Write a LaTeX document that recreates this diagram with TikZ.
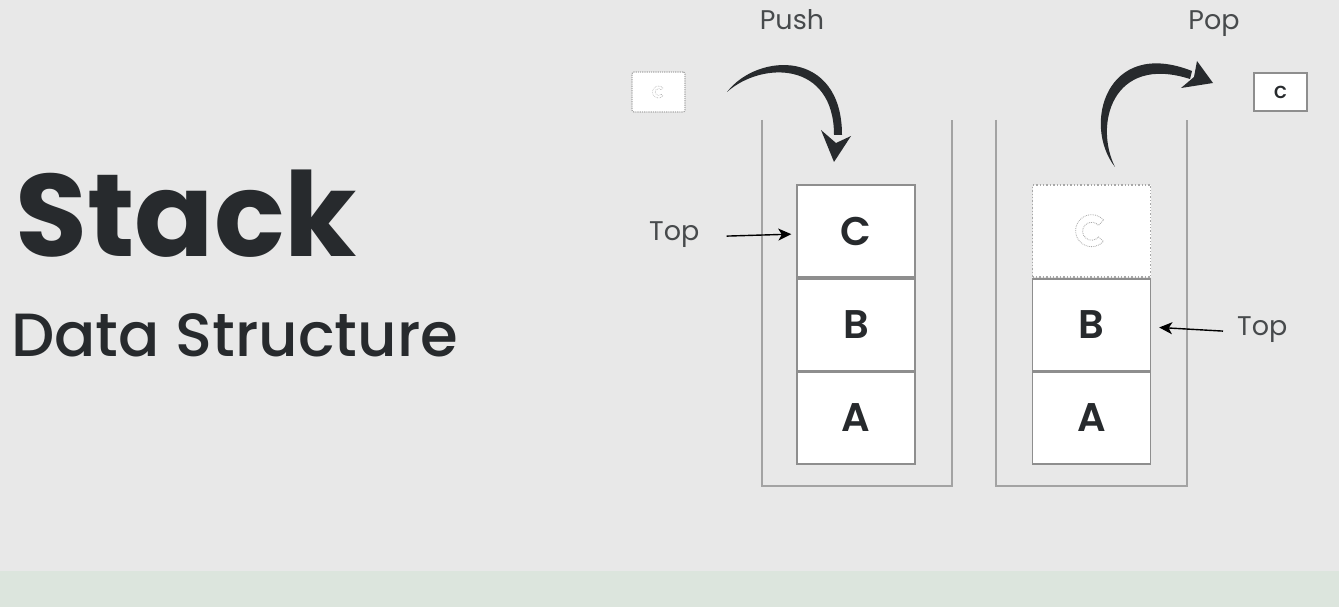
\documentclass[tikz,border=0pt]{standalone}
\usepackage{fontspec}
\setmainfont{Poppins}
\newfontfamily\popsemi{Poppins SemiBold}
\newfontfamily\popmed{Poppins Medium}
\usetikzlibrary{arrows.meta,calc}
\definecolor{bgc}{HTML}{E8E8E8}
\definecolor{bandc}{HTML}{DCE5DD}
\definecolor{darkc}{HTML}{272A2D}
\definecolor{labc}{HTML}{474A4C}
\definecolor{boxc}{HTML}{8E8E8E}
\definecolor{wallc}{HTML}{A3A3A3}
\definecolor{ghostc}{HTML}{A8A8A8}
\tikzset{
  cell/.style={draw=boxc, line width=1.4pt, fill=white, minimum width=118pt, minimum height=92pt, inner sep=0pt, text=darkc, font=\fontsize{40}{40}\popsemi},
  ghostcell/.style={cell, draw=ghostc, dotted},
  wall/.style={draw=wallc, line width=2pt},
  lab/.style={text=labc, inner sep=0pt, font=\fontsize{27}{27}\selectfont},
  toparrow/.style={draw=black, line width=1.4pt, -{Stealth[length=13pt,width=12pt,inset=3.5pt]}},
  brush/.style={fill=darkc},
  ghostline/.style={draw=ghostc, densely dotted, line width=0.8pt}
}
\begin{document}
\begin{tikzpicture}[x=1pt,y=-1pt]
\useasboundingbox (0,0) rectangle (1339,607);
\fill[bgc] (0,0) rectangle (1339,607);
\fill[bandc] (0,571) rectangle (1339,607);

% titles
\node[anchor=base west, inner sep=0pt, text=darkc, font=\fontsize{117}{117}\selectfont\bfseries] (title) at (15,256) {Stack};
\node[anchor=base west, inner sep=0pt, text=darkc, font=\fontsize{61}{61}\popmed] (subtitle) at (11,356) {Data Structure};

% labels
\node[lab, anchor=base] (push) at (792,30) {Push};
\node[lab, anchor=base] (pop) at (1214,30) {Pop};

% containers
\draw[wall] (762,120) -- (762,486) -- (952,486) -- (952,120);
\draw[wall] (996,120) -- (996,486) -- (1187,486) -- (1187,120);

% left stack
\node[cell] (C1) at (856,231) {C};
\node[cell] (B1) at (856,325) {B};
\node[cell] (A1) at (856,418) {A};

% right stack
\node[ghostcell] (C2) at (1091.5,231) {};
\node[cell] (B2) at (1091.5,325) {B};
\node[cell] (A2) at (1091.5,418) {A};

% ghost C in right stack
\draw[ghostline] ($(C2.center)+(12,-11)$) arc[start angle=-42, end angle=-318, radius=16]
  -- ($(C2.center)+(7,6)$) arc[start angle=40, end angle=320, radius=9] -- cycle;

% small boxes
\node[draw=ghostc, densely dotted, line width=1.2pt, fill=white, rounded corners=2pt, minimum width=53pt, minimum height=40pt, inner sep=0pt] (cin) at (658.5,92) {};
\draw[ghostline, line width=0.6pt] ($(cin.center)+(4.5,-4)$) arc[start angle=-42, end angle=-318, radius=6]
  -- ($(cin.center)+(2.6,2.2)$) arc[start angle=40, end angle=320, radius=3.4] -- cycle;
\node[draw=boxc, line width=1.2pt, fill=white, minimum width=53pt, minimum height=38pt, inner sep=0pt, text=darkc, font=\fontsize{22}{22}\popmed] (cout) at (1280.5,92) {c};

% top labels and arrows
\node[lab, anchor=base west] (topL) at (649,240) {Top};
\node[lab, anchor=base west] (topR) at (1237,335) {Top};
\draw[toparrow, shorten >=5pt] ($(topL.east)+(27,2)$) -- ($(C1.west)+(0,3)$);
\draw[toparrow, shorten >=8pt] ($(topR.west)+(-14,2)$) -- ($(B2.east)+(0,2)$);

% push brush arrow
\fill[brush] (727,92) .. controls (758,52) and (842,49) .. (842,135)
  -- (834,135) .. controls (834,61) and (762,61) .. (727,92) -- cycle;
\fill[brush] (821,130) -- (836,143) -- (851,136) -- (834,162) -- cycle;

% pop brush arrow
\fill[brush] (1115,167) .. controls (1082,125) and (1106,37) .. (1192,71)
  -- (1190,79) .. controls (1112,54) and (1094,125) .. (1115,167) -- cycle;
\fill[brush] (1197,61) -- (1194,77) -- (1181,88) -- (1213,83) -- cycle;
\end{tikzpicture}
\end{document}
